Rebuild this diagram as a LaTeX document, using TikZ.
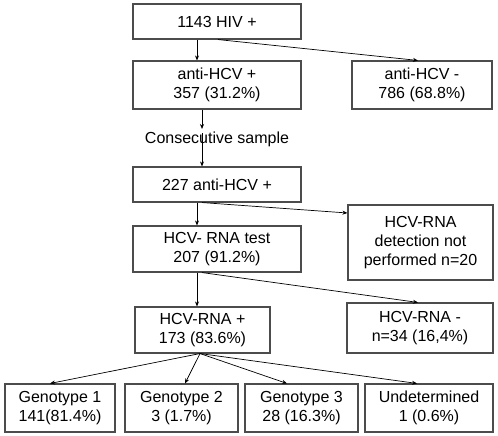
\documentclass[tikz,border=0pt]{standalone}
\usepackage{fontspec}
\setmainfont{Liberation Sans}
\usetikzlibrary{arrows.meta}
\begin{document}
\begin{tikzpicture}[x=1pt,y=-1pt,
  box/.style={draw=black!70, line width=1.1pt, inner sep=0pt, align=center,
    font=\fontsize{16}{19}\selectfont},
  arr/.style={-{Stealth[length=5pt,width=4pt]}, line width=0.7pt}]
\useasboundingbox (0,0) rectangle (498,436);
\node[box, minimum width=168pt, minimum height=35pt] (a) at (217,21.5) {1143 HIV +};
\node[box, minimum width=168pt, minimum height=48pt] (b) at (217,85) {anti-HCV +\\357 (31.2\%)};
\node[box, minimum width=140pt, minimum height=48pt] (c) at (422,85) {anti-HCV -\\786 (68.8\%)};
\node[font=\fontsize{16}{19}\selectfont, inner sep=0pt] (cs) at (217,139.5) {Consecutive sample};
\node[box, minimum width=168pt, minimum height=35pt] (d) at (217,184.5) {227 anti-HCV +};
\node[box, minimum width=168pt, minimum height=46pt] (e) at (217,249) {HCV- RNA test\\207 (91.2\%)};
\node[box, minimum width=145pt, minimum height=75pt] (f) at (420.5,242.5) {HCV-RNA\\detection not\\performed n=20};
\node[box, minimum width=135pt, minimum height=46pt] (g) at (202.5,330) {HCV-RNA +\\173 (83.6\%)};
\node[box, minimum width=146pt, minimum height=50pt] (h) at (420,328) {HCV-RNA -\\n=34 (16,4\%)};
\node[box, minimum width=110pt, minimum height=48pt] (g1) at (60,408) {Genotype 1\\141(81.4\%)};
\node[box, minimum width=113pt, minimum height=48pt] (g2) at (181.5,408) {Genotype 2\\3 (1.7\%)};
\node[box, minimum width=113pt, minimum height=48pt] (g3) at (301.5,408) {Genotype 3\\28 (16.3\%)};
\node[box, minimum width=128pt, minimum height=48pt] (u) at (429,408) {Undetermined\\1 (0.6\%)};
\coordinate (c1) at (202,129);
\coordinate (c2) at (202,133);
\draw[arr] ([xshift=-20pt]a.south) -- ([xshift=-20pt]b.north);
\draw[arr] ([xshift=1pt]a.south) -- ([xshift=-4pt]c.north);
\draw[arr] ([xshift=-15pt]b.south) -- (c1);
\draw[arr] (c2) -- ([xshift=-15pt]d.north);
\draw[arr] ([xshift=-20pt]d.south) -- ([xshift=-20pt]e.north);
\draw[arr] ([xshift=-15pt]d.south) -- ([yshift=29.5pt]f.west);
\draw[arr] ([xshift=-20pt]e.south) -- ([xshift=-5.5pt]g.north);
\draw[arr] ([xshift=-15pt]e.south) -- ([xshift=-2pt]h.north);
\draw[arr] ([xshift=-2.5pt]g.south) -- ([xshift=-10pt]g1.north);
\draw[arr] ([xshift=-2.5pt]g.south) -- ([xshift=3.5pt]g2.north);
\draw[arr] ([xshift=-2.5pt]g.south) -- ([xshift=-14.5pt]g3.north);
\draw[arr] ([xshift=-2.5pt]g.south) -- ([xshift=-12pt]u.north);
\end{tikzpicture}
\end{document}
